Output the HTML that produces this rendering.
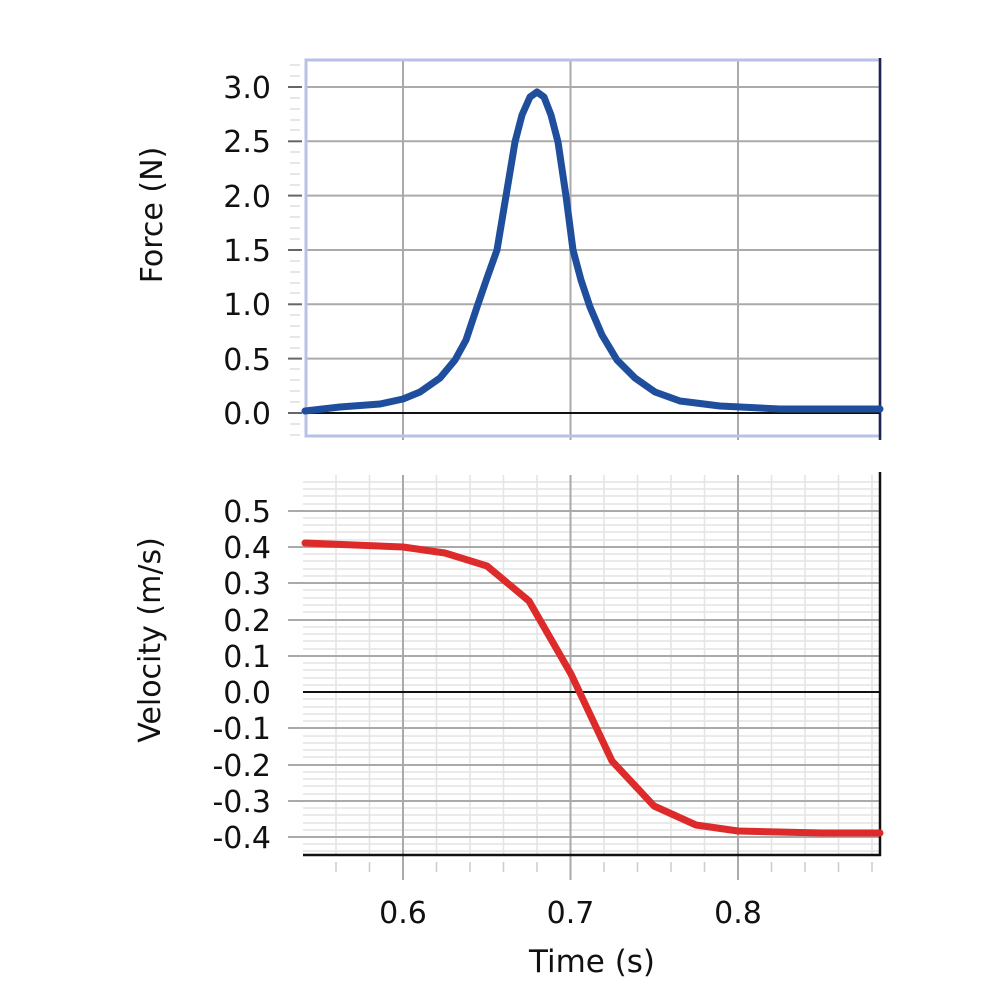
<!DOCTYPE html>
<html><head><meta charset="utf-8"><style>html,body{margin:0;padding:0;background:#fff}</style></head>
<body>
<svg width="1000" height="1000" viewBox="0 0 1000 1000" xmlns="http://www.w3.org/2000/svg" font-family="DejaVu Sans, Liberation Sans, sans-serif">
<rect width="1000" height="1000" fill="#fff"/>
<!-- TOP PLOT -->
<g stroke="#aaa" stroke-width="2">
<line x1="403" y1="60" x2="403" y2="440"/>
<line x1="570.5" y1="60" x2="570.5" y2="440"/>
<line x1="738" y1="60" x2="738" y2="440"/>
<line x1="305" y1="87" x2="880" y2="87"/>
<line x1="305" y1="141.3" x2="880" y2="141.3"/>
<line x1="305" y1="195.6" x2="880" y2="195.6"/>
<line x1="305" y1="250" x2="880" y2="250"/>
<line x1="305" y1="304.3" x2="880" y2="304.3"/>
<line x1="305" y1="358.6" x2="880" y2="358.6"/>
</g>
<g stroke="#ddd" stroke-width="1.5">
<line x1="290" y1="65" x2="300" y2="65"/><line x1="290" y1="76" x2="300" y2="76"/>
<line x1="290" y1="98" x2="300" y2="98"/><line x1="290" y1="109" x2="300" y2="109"/><line x1="290" y1="120" x2="300" y2="120"/><line x1="290" y1="130" x2="300" y2="130"/>
<line x1="290" y1="152" x2="300" y2="152"/><line x1="290" y1="163" x2="300" y2="163"/><line x1="290" y1="174" x2="300" y2="174"/><line x1="290" y1="185" x2="300" y2="185"/>
<line x1="290" y1="206" x2="300" y2="206"/><line x1="290" y1="217" x2="300" y2="217"/><line x1="290" y1="228" x2="300" y2="228"/><line x1="290" y1="239" x2="300" y2="239"/>
<line x1="290" y1="261" x2="300" y2="261"/><line x1="290" y1="272" x2="300" y2="272"/><line x1="290" y1="283" x2="300" y2="283"/><line x1="290" y1="293" x2="300" y2="293"/>
<line x1="290" y1="315" x2="300" y2="315"/><line x1="290" y1="326" x2="300" y2="326"/><line x1="290" y1="337" x2="300" y2="337"/><line x1="290" y1="348" x2="300" y2="348"/>
<line x1="290" y1="369" x2="300" y2="369"/><line x1="290" y1="380" x2="300" y2="380"/><line x1="290" y1="391" x2="300" y2="391"/><line x1="290" y1="402" x2="300" y2="402"/>
<line x1="290" y1="424" x2="300" y2="424"/><line x1="290" y1="435" x2="300" y2="435"/>
</g>
<g stroke="#666" stroke-width="2">
<line x1="288" y1="87" x2="302" y2="87"/><line x1="288" y1="141.3" x2="302" y2="141.3"/><line x1="288" y1="195.6" x2="302" y2="195.6"/><line x1="288" y1="250" x2="302" y2="250"/><line x1="288" y1="304.3" x2="302" y2="304.3"/><line x1="288" y1="358.6" x2="302" y2="358.6"/><line x1="288" y1="413" x2="302" y2="413"/>
</g>
<rect x="306" y="60" width="574" height="376" fill="none" stroke="#b8c2e6" stroke-width="3"/>
<line x1="880" y1="58" x2="880" y2="440" stroke="#1c2550" stroke-width="2.5"/>
<line x1="305" y1="413" x2="880" y2="413" stroke="#111" stroke-width="2"/>
<polyline fill="none" stroke="#1f4e9c" stroke-width="7" stroke-linejoin="round" stroke-linecap="round"
points="305,411 340,407 380,404 403,399 420,392 440,378 455,360 466,340 477,307 487,278 497,250 506,196 515,142 522,115 530,97 537,92 544,97 551,115 558,142 566,196 573,250 581,280 590,307 602,335 617,360 635,378 655,392 680,401 720,406 780,409 880,409"/>
<g font-size="30" fill="#111" text-anchor="end">
<text x="271" y="98">3.0</text><text x="271" y="152">2.5</text><text x="271" y="207">2.0</text><text x="271" y="261">1.5</text><text x="271" y="315">1.0</text><text x="271" y="370">0.5</text><text x="271" y="424">0.0</text>
</g>
<text transform="translate(162,215) rotate(-90)" font-size="30" fill="#111" text-anchor="middle">Force (N)</text>
<!-- BOTTOM PLOT -->
<g stroke="#e4e4e4" stroke-width="1.5">
<line x1="303" y1="482" x2="880" y2="482"/><line x1="303" y1="489" x2="880" y2="489"/><line x1="303" y1="496" x2="880" y2="496"/><line x1="303" y1="504" x2="880" y2="504"/>
<line x1="303" y1="518" x2="880" y2="518"/><line x1="303" y1="525" x2="880" y2="525"/><line x1="303" y1="532" x2="880" y2="532"/><line x1="303" y1="540" x2="880" y2="540"/>
<line x1="303" y1="554" x2="880" y2="554"/><line x1="303" y1="561" x2="880" y2="561"/><line x1="303" y1="569" x2="880" y2="569"/><line x1="303" y1="576" x2="880" y2="576"/>
<line x1="303" y1="590" x2="880" y2="590"/><line x1="303" y1="598" x2="880" y2="598"/><line x1="303" y1="605" x2="880" y2="605"/><line x1="303" y1="612" x2="880" y2="612"/>
<line x1="303" y1="627" x2="880" y2="627"/><line x1="303" y1="634" x2="880" y2="634"/><line x1="303" y1="641" x2="880" y2="641"/><line x1="303" y1="649" x2="880" y2="649"/>
<line x1="303" y1="663" x2="880" y2="663"/><line x1="303" y1="670" x2="880" y2="670"/><line x1="303" y1="678" x2="880" y2="678"/><line x1="303" y1="685" x2="880" y2="685"/>
<line x1="303" y1="699" x2="880" y2="699"/><line x1="303" y1="707" x2="880" y2="707"/><line x1="303" y1="714" x2="880" y2="714"/><line x1="303" y1="721" x2="880" y2="721"/>
<line x1="303" y1="736" x2="880" y2="736"/><line x1="303" y1="743" x2="880" y2="743"/><line x1="303" y1="750" x2="880" y2="750"/><line x1="303" y1="757" x2="880" y2="757"/>
<line x1="303" y1="772" x2="880" y2="772"/><line x1="303" y1="779" x2="880" y2="779"/><line x1="303" y1="786" x2="880" y2="786"/><line x1="303" y1="794" x2="880" y2="794"/>
<line x1="303" y1="808" x2="880" y2="808"/><line x1="303" y1="815" x2="880" y2="815"/><line x1="303" y1="823" x2="880" y2="823"/><line x1="303" y1="830" x2="880" y2="830"/>
<line x1="303" y1="844" x2="880" y2="844"/><line x1="303" y1="851" x2="880" y2="851"/>
<line x1="336" y1="475" x2="336" y2="855"/><line x1="369.5" y1="475" x2="369.5" y2="855"/>
<line x1="436.5" y1="475" x2="436.5" y2="855"/><line x1="470" y1="475" x2="470" y2="855"/><line x1="503.5" y1="475" x2="503.5" y2="855"/><line x1="537" y1="475" x2="537" y2="855"/>
<line x1="604" y1="475" x2="604" y2="855"/><line x1="637.5" y1="475" x2="637.5" y2="855"/><line x1="671" y1="475" x2="671" y2="855"/><line x1="704.5" y1="475" x2="704.5" y2="855"/>
<line x1="771.5" y1="475" x2="771.5" y2="855"/><line x1="805" y1="475" x2="805" y2="855"/><line x1="838.5" y1="475" x2="838.5" y2="855"/><line x1="872" y1="475" x2="872" y2="855"/>
</g>
<g stroke="#aaa" stroke-width="2">
<line x1="403" y1="475" x2="403" y2="880"/><line x1="570.5" y1="475" x2="570.5" y2="880"/><line x1="738" y1="475" x2="738" y2="880"/>
<line x1="288" y1="511" x2="880" y2="511"/><line x1="288" y1="547" x2="880" y2="547"/><line x1="288" y1="583" x2="880" y2="583"/><line x1="288" y1="620" x2="880" y2="620"/><line x1="288" y1="656" x2="880" y2="656"/>
<line x1="288" y1="728" x2="880" y2="728"/><line x1="288" y1="765" x2="880" y2="765"/><line x1="288" y1="801" x2="880" y2="801"/><line x1="288" y1="837" x2="880" y2="837"/>
</g>
<g stroke="#ccc" stroke-width="1.5">
<line x1="336" y1="862" x2="336" y2="872"/><line x1="369.5" y1="862" x2="369.5" y2="872"/><line x1="436.5" y1="862" x2="436.5" y2="872"/><line x1="470" y1="862" x2="470" y2="872"/><line x1="503.5" y1="862" x2="503.5" y2="872"/><line x1="537" y1="862" x2="537" y2="872"/><line x1="604" y1="862" x2="604" y2="872"/><line x1="637.5" y1="862" x2="637.5" y2="872"/><line x1="671" y1="862" x2="671" y2="872"/><line x1="704.5" y1="862" x2="704.5" y2="872"/><line x1="771.5" y1="862" x2="771.5" y2="872"/><line x1="805" y1="862" x2="805" y2="872"/><line x1="838.5" y1="862" x2="838.5" y2="872"/><line x1="872" y1="862" x2="872" y2="872"/>
</g>
<line x1="303" y1="692" x2="880" y2="692" stroke="#111" stroke-width="2"/>
<line x1="303" y1="855" x2="881" y2="855" stroke="#111" stroke-width="2.5"/>
<line x1="880" y1="472" x2="880" y2="856" stroke="#111" stroke-width="2.5"/>
<polyline fill="none" stroke="#dd2a2a" stroke-width="7" stroke-linejoin="round" stroke-linecap="round"
points="305,543 403,547 445,553 487,566 529,601 571,674 612,761 654,806 696,825 738,831 822,833 880,833"/>
<g font-size="30" fill="#111" text-anchor="end">
<text x="271" y="522">0.5</text><text x="271" y="558">0.4</text><text x="271" y="594">0.3</text><text x="271" y="631">0.2</text><text x="271" y="667">0.1</text><text x="271" y="703">0.0</text><text x="271" y="739">-0.1</text><text x="271" y="776">-0.2</text><text x="271" y="812">-0.3</text><text x="271" y="848">-0.4</text>
</g>
<text transform="translate(160,640) rotate(-90)" font-size="30" fill="#111" text-anchor="middle">Velocity (m/s)</text>
<g font-size="30" fill="#111" text-anchor="middle">
<text x="403" y="923">0.6</text><text x="570.5" y="923">0.7</text><text x="738" y="923">0.8</text>
</g>
<text x="592" y="972" font-size="31" fill="#111" text-anchor="middle">Time (s)</text>
</svg>
</body></html>
